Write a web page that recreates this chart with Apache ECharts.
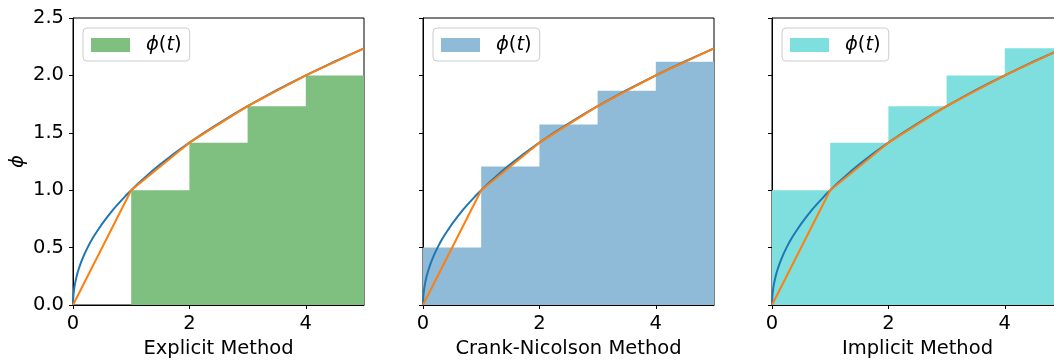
<!DOCTYPE html>
<html>
<head>
	<meta charset="utf-8">
	<title>phi(t) methods</title>
	<script src="https://cdn.jsdelivr.net/npm/echarts@6/dist/echarts.min.js"></script>
	<style>
		body { margin: 0; background: #fff; }
		#main { width: 1054px; height: 361px; }
	</style>
</head>
<body>
	<div id="main"></div>
<script>
	// step heights on [k, k+1], k = 0..4
	var stepT = [0, 1, 2, 3, 4, 5];
	var explicitVals = [0, 1.0, 1.414, 1.732, 2.0];
	var crankVals = [0.5, 1.207, 1.573, 1.866, 2.118];
	var implicitVals = [1.0, 1.414, 1.732, 2.0, 2.236];

	// exact curve (blue)
	var curveT = [0, 0.005, 0.01, 0.02, 0.03, 0.045, 0.06, 0.08, 0.1, 0.125, 0.15, 0.2, 0.25, 0.3, 0.35, 0.4, 0.5, 0.6, 0.7, 0.8, 0.9, 1,
		1.125, 1.25, 1.375, 1.5, 1.75, 2, 2.25, 2.5, 2.75, 3, 3.25, 3.5, 3.75, 4, 4.25, 4.5, 4.75, 5];
	var curveV = [0, 0.071, 0.1, 0.141, 0.173, 0.212, 0.245, 0.283, 0.316, 0.354, 0.387, 0.447, 0.5, 0.548, 0.592, 0.632, 0.707, 0.775, 0.837, 0.894, 0.949, 1.0,
		1.061, 1.118, 1.173, 1.225, 1.323, 1.414, 1.5, 1.581, 1.658, 1.732, 1.803, 1.871, 1.936, 2.0, 2.062, 2.121, 2.179, 2.236];

	// piecewise linear (orange)
	var linT = [0, 1, 2, 3, 4, 5];
	var linV = [0, 1.0, 1.414, 1.732, 2.0, 2.236];

	var xTicks = [0, 2, 4];
	var panelNames = ['Explicit Method', 'Crank-Nicolson Method', 'Implicit Method'];
	var fillColors = ['#7fbf7f', '#8fbbd9', '#7fdfdf'];
	var panelVals = [explicitVals, crankVals, implicitVals];
	var gridLeft = [73, 423, 772];

	function pairs(xs, ys) {
		var out = [];
		for (var i = 0; i < xs.length; i++) out.push([xs[i], ys[i]]);
		return out;
	}
	function stepPairs(vals) {
		var out = pairs(stepT, vals);
		out.push([stepT[stepT.length - 1], vals[vals.length - 1]]);
		return out;
	}

	var font = 'DejaVu Sans';
	var fs = 19.5;
	var grids = [], xAxes = [], yAxes = [], series = [], legends = [];

	for (var p = 0; p < 3; p++) {
		grids.push({
			left: gridLeft[p], top: 18, width: 291, height: 287,
			outerBoundsMode: 'none', containLabel: false,
			show: true, borderColor: '#000', borderWidth: 1, backgroundColor: 'transparent'
		});
		xAxes.push({
			gridIndex: p, type: 'value', min: 0, max: 5,
			name: panelNames[p], nameLocation: 'middle', nameGap: 31,
			nameTextStyle: { fontFamily: font, fontSize: fs, color: '#000' },
			axisLine: { show: true, onZero: false, lineStyle: { color: '#000', width: 1 } },
			axisTick: { show: true, length: 4, customValues: xTicks, lineStyle: { color: '#000' } },
			axisLabel: { customValues: xTicks, margin: 9, fontFamily: font, fontSize: fs, color: '#000' },
			splitLine: { show: false }
		});
		yAxes.push({
			gridIndex: p, type: 'value', min: 0, max: 2.5, interval: 0.5,
			name: p === 0 ? 'ϕ' : '', nameLocation: 'middle', nameGap: 45, nameRotate: 90,
			nameTextStyle: { fontFamily: font, fontSize: fs, fontStyle: 'italic', color: '#000' },
			axisLine: { show: true, lineStyle: { color: '#000', width: 1 } },
			axisTick: { show: true, length: 4, lineStyle: { color: '#000' } },
			axisLabel: {
				show: p === 0, margin: 9, fontFamily: font, fontSize: fs, color: '#000',
				formatter: function (v) { return v.toFixed(1); }
			},
			splitLine: { show: false }
		});
		series.push({
			name: 'phi' + p, type: 'line', xAxisIndex: p, yAxisIndex: p,
			step: 'end', symbol: 'none', data: stepPairs(panelVals[p]),
			lineStyle: { width: 0, opacity: 0 },
			itemStyle: { color: fillColors[p] },
			areaStyle: { color: fillColors[p], opacity: 1 },
			z: 1
		});
		series.push({
			name: 'exact' + p, type: 'line', xAxisIndex: p, yAxisIndex: p,
			symbol: 'none', data: pairs(curveT, curveV),
			lineStyle: { color: '#1f77b4', width: 2 }, z: 2
		});
		series.push({
			name: 'lin' + p, type: 'line', xAxisIndex: p, yAxisIndex: p,
			symbol: 'none', data: pairs(linT, linV),
			lineStyle: { color: '#ff7f0e', width: 2 }, z: 3
		});
		legends.push({
			left: gridLeft[p] + 10, top: 28, orient: 'vertical',
			data: [{ name: 'phi' + p, icon: 'rect', itemStyle: { color: fillColors[p], opacity: 1 } }],
			itemWidth: 39, itemHeight: 14,
			padding: [7, 8, 6, 8],
			backgroundColor: 'rgba(255,255,255,0.8)', borderColor: '#cccccc', borderWidth: 1, borderRadius: 4,
			selectedMode: false,
			formatter: function () { return '{i|ϕ}{n|(}{i|t}{n|)}'; },
			textStyle: {
				padding: [0, 0, 0, 11],
				rich: {
					i: { fontFamily: font, fontSize: fs, fontStyle: 'italic', color: '#000' },
					n: { fontFamily: font, fontSize: fs, color: '#000' }
				}
			}
		});
	}

	var chart = echarts.init(document.getElementById('main'), null, { renderer: 'canvas' });
	chart.setOption({
		animation: false,
		grid: grids,
		xAxis: xAxes,
		yAxis: yAxes,
		legend: legends,
		series: series
	});
</script>
</body>
</html>
